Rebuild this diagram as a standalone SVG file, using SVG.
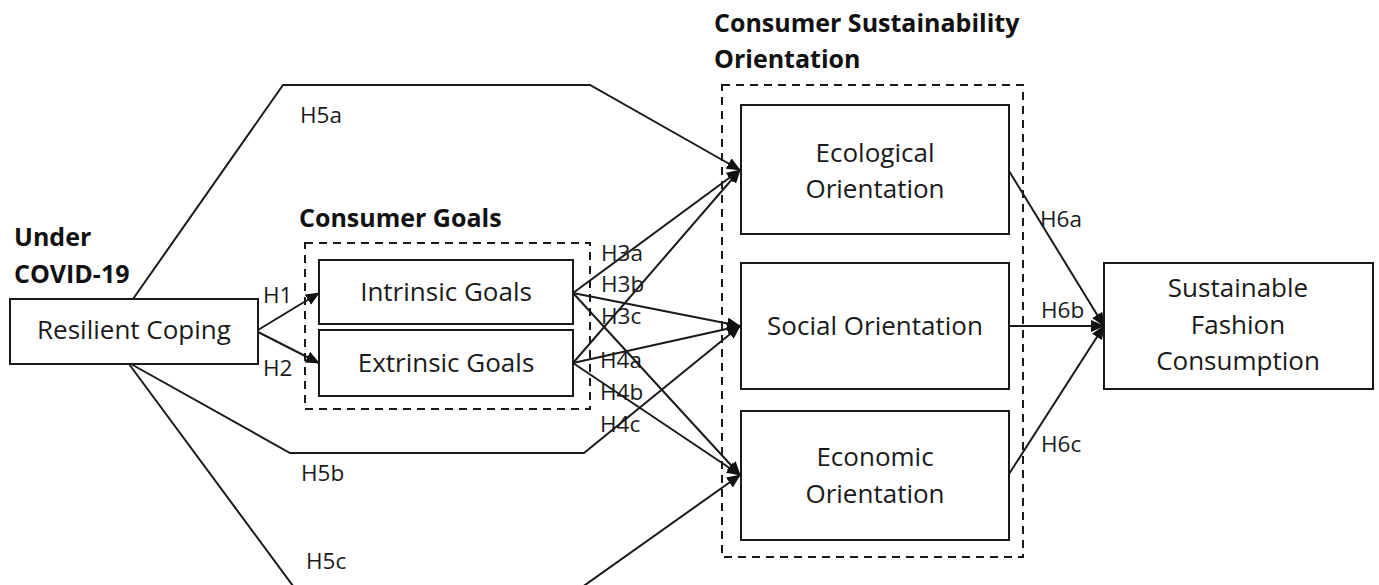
<svg xmlns="http://www.w3.org/2000/svg" width="1379" height="585" viewBox="0 0 1379 585">
  <style>
    .box { fill: #fff; stroke: #1a1a1a; stroke-width: 2; }
    .group { fill: none; stroke: #1a1a1a; stroke-width: 2; stroke-dasharray: 8 6; }
    .txt { font-family: "Open Sans", "Noto Sans", sans-serif; font-size: 26px; fill: #1a1a1a; text-anchor: middle; }
    .title { font-family: "Open Sans", "Noto Sans", sans-serif; font-size: 25px; font-weight: bold; fill: #111; }
    .lab { font-family: "Open Sans", "Noto Sans", sans-serif; font-size: 22.5px; fill: #1a1a1a; }
    .edge { fill: none; stroke: #1a1a1a; stroke-width: 2; marker-end: url(#arrow); }
  </style>
  <defs>
    <marker id="arrow" markerUnits="userSpaceOnUse" markerWidth="14" markerHeight="12" viewBox="0 0 14 12" refX="13" refY="6" orient="auto">
      <path d="M0,0 L14,6 L0,12 z" fill="#111"/>
    </marker>
  </defs>
  <rect width="1379" height="585" fill="#fff"/>

  <!-- group frames and titles -->
  <g id="consumer-goals-group">
    <rect class="group" x="305" y="243" width="285" height="166"/>
    <text class="title" x="299" y="227">Consumer Goals</text>
  </g>
  <g id="orientation-group">
    <rect class="group" x="722" y="85" width="301" height="472"/>
    <text class="title" x="714" y="32">Consumer Sustainability</text>
    <text class="title" x="714" y="68">Orientation</text>
  </g>

  <!-- connectors -->
  <g id="connectors">
    <path class="edge" d="M133,299 L283,85 L590,85 L740,170"/>
    <path class="edge" d="M131,364 L290,453 L584,453 L740,326"/>
    <path class="edge" d="M129,364 L296,590 L578,590 L740,475"/>
    <path class="edge" d="M258,330 L319,293"/>
    <path class="edge" d="M258,332 L319,363"/>
    <path class="edge" d="M573,293 L740,170"/>
    <path class="edge" d="M573,293 L740,326"/>
    <path class="edge" d="M573,293 L740,475"/>
    <path class="edge" d="M573,363 L740,170"/>
    <path class="edge" d="M573,363 L740,326"/>
    <path class="edge" d="M573,363 L740,475"/>
    <path class="edge" d="M1009,171 L1104,326"/>
    <path class="edge" d="M1009,326 L1104,326"/>
    <path class="edge" d="M1009,474 L1104,326"/>
    <g id="edge-labels">
      <text class="lab" x="263" y="303">H1</text>
      <text class="lab" x="263" y="376">H2</text>
      <text class="lab" x="300" y="123">H5a</text>
      <text class="lab" x="301" y="481">H5b</text>
      <text class="lab" x="306" y="569">H5c</text>
      <text class="lab" x="601" y="261">H3a</text>
      <text class="lab" x="601" y="292">H3b</text>
      <text class="lab" x="601" y="324">H3c</text>
      <text class="lab" x="600" y="368">H4a</text>
      <text class="lab" x="600" y="400">H4b</text>
      <text class="lab" x="600" y="432">H4c</text>
      <text class="lab" x="1040" y="227">H6a</text>
      <text class="lab" x="1041" y="318">H6b</text>
      <text class="lab" x="1041" y="452">H6c</text>
    </g>
  </g>

  <!-- nodes -->
  <g id="resilient-coping">
    <text class="title" x="14" y="246">Under</text>
    <text class="title" x="14" y="283">COVID-19</text>
    <rect class="box" x="10" y="299" width="248" height="65"/>
    <text class="txt" x="134" y="339">Resilient Coping</text>
  </g>
  <g id="intrinsic-goals">
    <rect class="box" x="319" y="260" width="254" height="64"/>
    <text class="txt" x="446" y="301">Intrinsic Goals</text>
  </g>
  <g id="extrinsic-goals">
    <rect class="box" x="319" y="330" width="254" height="66"/>
    <text class="txt" x="446" y="372">Extrinsic Goals</text>
  </g>
  <g id="ecological-orientation">
    <rect class="box" x="741" y="105" width="268" height="129"/>
    <text class="txt" x="875" y="162">Ecological</text>
    <text class="txt" x="875" y="198">Orientation</text>
  </g>
  <g id="social-orientation">
    <rect class="box" x="741" y="263" width="268" height="126"/>
    <text class="txt" x="875" y="335">Social Orientation</text>
  </g>
  <g id="economic-orientation">
    <rect class="box" x="741" y="411" width="268" height="129"/>
    <text class="txt" x="875" y="466">Economic</text>
    <text class="txt" x="875" y="503">Orientation</text>
  </g>
  <g id="sustainable-fashion-consumption">
    <rect class="box" x="1104" y="263" width="269" height="126"/>
    <text class="txt" x="1238" y="297">Sustainable</text>
    <text class="txt" x="1238" y="334">Fashion</text>
    <text class="txt" x="1238" y="370">Consumption</text>
  </g>
</svg>
